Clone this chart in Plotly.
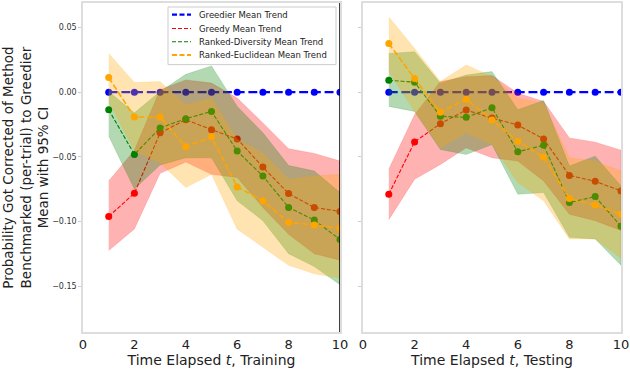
import plotly.graph_objects as go
from plotly.subplots import make_subplots

t = [1, 2, 3, 4, 5, 6, 7, 8, 9, 10]

# ---- Training panel ----
tr_greedier = [0, 0, 0, 0, 0, 0, 0, 0, 0, 0]
tr_greedy = [-0.0962, -0.0782, -0.0315, -0.0213, -0.029, -0.0362, -0.058, -0.0785, -0.0892, -0.0923]
tr_greedy_hi = [-0.0687, -0.0449, 0.0018, 0.0095, 0.007, -0.0046, -0.0238, -0.0438, -0.0474, -0.0533]
tr_greedy_lo = [-0.1226, -0.1059, -0.0628, -0.0541, -0.0636, -0.066, -0.0892, -0.110, -0.125, -0.130]
tr_div = [-0.0136, -0.0482, -0.0277, -0.0205, -0.0149, -0.0456, -0.0649, -0.0892, -0.099, -0.114]
tr_div_hi = [0.0005, -0.016, 0.0005, 0.0138, 0.0203, -0.011, -0.0315, -0.0567, -0.061, -0.0777]
tr_div_lo = [-0.034, -0.075, -0.0564, -0.0508, -0.0508, -0.084, -0.0995, -0.125, -0.135, -0.149]
tr_euc = [0.0113, -0.0192, -0.0192, -0.0423, -0.0346, -0.0733, -0.0841, -0.1008, -0.1028, -0.1054]
tr_euc_hi = [0.030, 0.0074, 0.0082, -0.0097, -0.0046, -0.0367, -0.047, -0.0674, -0.0649, -0.0636]
tr_euc_lo = [-0.0072, -0.0456, -0.0546, -0.0738, -0.0636, -0.106, -0.120, -0.134, -0.1405, -0.144]

# ---- Testing panel ----
te_greedier = [0, 0, 0, 0, 0, 0, 0, 0, 0, 0]
te_greedy = [-0.079, -0.0385, -0.0244, -0.0138, -0.02, -0.0254, -0.0362, -0.0644, -0.069, -0.0764]
te_greedy_hi = [-0.0597, -0.0174, 0.0082, 0.012, 0.0128, -0.0008, -0.0072, -0.0354, -0.0387, -0.0449]
te_greedy_lo = [-0.0987, -0.0674, -0.0559, -0.0431, -0.0508, -0.0533, -0.0687, -0.0944, -0.0995, -0.107]
te_div = [0.0092, 0.0077, -0.0187, -0.0195, -0.012, -0.0462, -0.041, -0.0854, -0.0808, -0.1038]
te_div_hi = [0.030, 0.0313, 0.0069, 0.0133, 0.0159, -0.0136, -0.0064, -0.0572, -0.0495, -0.0726]
te_div_lo = [-0.011, -0.0149, -0.0444, -0.0482, -0.0405, -0.079, -0.0777, -0.1123, -0.1136, -0.134]
te_euc = [0.0377, 0.0105, -0.0156, -0.0054, -0.0215, -0.0379, -0.0503, -0.0823, -0.0874, -0.0944]
te_euc_hi = [0.0582, 0.0338, 0.0082, 0.021, 0.012, -0.0046, -0.0085, -0.0508, -0.0533, -0.061]
te_euc_lo = [0.0159, -0.0149, -0.0431, -0.0315, -0.0405, -0.070, -0.0841, -0.1136, -0.1136, -0.1285]

names = ["Greedier Mean Trend", "Greedy Mean Trend",
         "Ranked-Diversity Mean Trend", "Ranked-Euclidean Mean Trend"]
colors = ["#0000ff", "#ff0000", "#008000", "#ffa500"]
fills = ["rgba(0,0,255,0.3)", "rgba(255,0,0,0.3)", "rgba(0,128,0,0.3)", "rgba(255,165,0,0.3)"]
widths = [2.4, 1.1, 1.1, 1.6]
xtick_vals = [0, 2, 4, 6, 8, 10]
ytick_vals = [-0.15, -0.10, -0.05, 0.00, 0.05]
ytick_text = ["\u22120.15", "\u22120.10", "\u22120.05", "0.00", "0.05"]


def mpl_dash(w):
    return f"{3.7 * w:.1f}px,{1.6 * w:.1f}px"


fig = make_subplots(rows=1, cols=2, horizontal_spacing=0.0)

panels = [
    (1, [(tr_greedier, None, None), (tr_greedy, tr_greedy_hi, tr_greedy_lo),
         (tr_div, tr_div_hi, tr_div_lo), (tr_euc, tr_euc_hi, tr_euc_lo)]),
    (2, [(te_greedier, None, None), (te_greedy, te_greedy_hi, te_greedy_lo),
         (te_div, te_div_hi, te_div_lo), (te_euc, te_euc_hi, te_euc_lo)]),
]

for col, series in panels:
    for i, (m, hi, lo) in enumerate(series):
        fig.add_trace(go.Scatter(
            x=t, y=m, mode="lines+markers",
            line=dict(color=colors[i], width=widths[i], dash=mpl_dash(widths[i])),
            marker=dict(color=colors[i], size=7),
            showlegend=False, hoverinfo="skip", cliponaxis=True), row=1, col=col)
        if hi is not None:
            fig.add_trace(go.Scatter(
                x=t + t[::-1], y=hi + lo[::-1], mode="lines",
                fill="toself", fillcolor=fills[i],
                line=dict(color=fills[i], width=0.5),
                showlegend=False, hoverinfo="skip"), row=1, col=col)

L = 83
R = 9
W = 630 - L - R
H = 370 - 1 - 38
fig.update_layout(
    width=630, height=370,
    margin=dict(l=L, r=R, t=1, b=38),
    paper_bgcolor="white", plot_bgcolor="white",
    font=dict(family="DejaVu Sans", color="#222"),
    showlegend=False,
)

yr = [-0.1856, 0.069]
fig.update_xaxes(range=[0, 10], tickvals=xtick_vals, showgrid=False, zeroline=False,
                 showline=True, linecolor="#dddddd", linewidth=1.5, mirror=True,
                 ticks="", tickfont=dict(size=13, color="#222"))
fig.update_xaxes(domain=[0, (340 - L) / W], row=1, col=1,
                 title=dict(text="Time Elapsed <i>t</i>, Training", font=dict(size=14), standoff=3))
fig.update_xaxes(domain=[(363 - L) / W, 1], row=1, col=2,
                 title=dict(text="Time Elapsed <i>t</i>, Testing", font=dict(size=14), standoff=3))
fig.update_yaxes(range=yr, tickvals=ytick_vals, showgrid=False, zeroline=False,
                 showline=True, linecolor="#dddddd", linewidth=1.5, mirror=True,
                 ticks="outside", ticklen=3, tickcolor="#cccccc",
                 tickfont=dict(size=8, color="#333"))
fig.update_yaxes(row=1, col=1, ticktext=ytick_text,
                 title=dict(text="Probability Got Corrected of Method<br>Benchmarked (per-trial) to Greedier<br>Mean with 95% CI",
                            font=dict(size=13.5), standoff=2))
fig.update_yaxes(row=1, col=2, showticklabels=False, matches="y")

# black right spine of the training panel
fig.add_shape(type="line", xref="x", yref="paper", x0=10, x1=10, y0=0, y1=1,
              line=dict(color="black", width=1.5))


# hand-made compact legend (matplotlib style) in the training panel
def px_x(p):
    return (p - L) / W


def px_y(p):
    return (370 - 38 - p) / H


fig.add_shape(type="rect", xref="paper", yref="paper",
              x0=px_x(168), x1=px_x(336), y0=px_y(63), y1=px_y(5),
              line=dict(color="#cccccc", width=1), fillcolor="rgba(255,255,255,0.85)")
row_y = [12.7, 26.7, 40.0, 53.3]
for i in range(4):
    fig.add_shape(type="line", xref="paper", yref="paper",
                  x0=px_x(172), x1=px_x(191), y0=px_y(row_y[i]), y1=px_y(row_y[i]),
                  line=dict(color=colors[i], width=widths[i] if i in (1, 2) else 2.2,
                            dash="4px,2px" if i in (1, 2) else "5px,2.5px"))
    fig.add_annotation(xref="paper", yref="paper", x=px_x(197), y=px_y(row_y[i]),
                       text=names[i], showarrow=False, xanchor="left", yanchor="middle",
                       font=dict(size=8.5, color="#222"))

fig.write_html("out.html", config={"displayModeBar": False},
               post_script="document.body.style.margin='0';")
